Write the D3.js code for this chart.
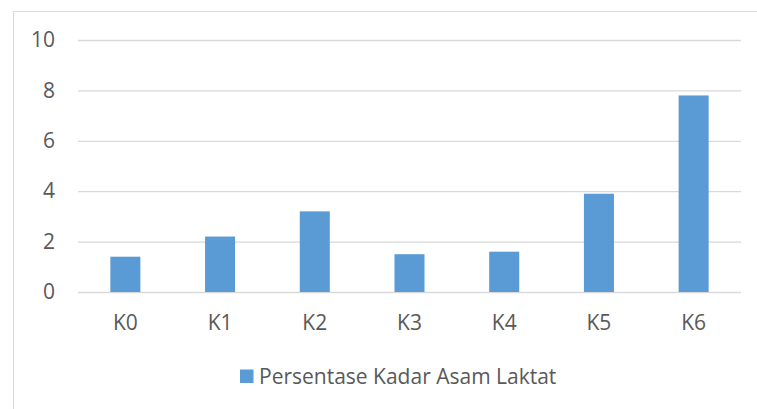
<!DOCTYPE html>
<html><head><meta charset="utf-8">
<script src="https://cdn.jsdelivr.net/npm/d3@7"></script>
<style>html,body{margin:0;padding:0;background:#fff;}svg{display:block;}</style>
</head><body>
<svg id="chart" width="757" height="409"></svg>
<script>
const categories = ["K0","K1","K2","K3","K4","K5","K6"];
const values = [1.4, 2.2, 3.2, 1.5, 1.6, 3.9, 7.8];
const yTicks = [0, 2, 4, 6, 8, 10];
const seriesName = "Persentase Kadar Asam Laktat";

const svg = d3.select("#chart");
const font = "'Open Sans', sans-serif";
const fs = "21px";
const textColor = "#595959";
const gridColor = "#d9d9d9";
const barColor = "#5b9bd5";

svg.append("rect").attr("x",13.5).attr("y",11.5).attr("width",760).attr("height",420)
  .attr("fill","#fff").attr("stroke",gridColor).attr("stroke-width",1);

const margin = {left:78, right:741, top:40, bottom:292};
const x = d3.scaleBand().domain(categories).range([margin.left, margin.right]).paddingInner(0.683).paddingOuter(0.3415);
const y = d3.scaleLinear().domain([0,10]).range([margin.bottom, margin.top]);

const yAxis = d3.axisLeft(y).tickValues(yTicks).tickSize(-(margin.right-margin.left)).tickPadding(23);
const gy = svg.append("g").attr("transform",`translate(${margin.left},0)`).call(yAxis);
gy.select(".domain").remove();
gy.selectAll(".tick line").attr("stroke",gridColor).attr("stroke-width",1.3);
gy.selectAll(".tick text").attr("fill",textColor).style("font-family",font).style("font-size",fs);

svg.append("g").selectAll("rect").data(values).join("rect")
  .attr("x",(d,i)=>x(categories[i])).attr("width",x.bandwidth())
  .attr("y",d=>y(d)).attr("height",d=>y(0)-y(d)).attr("fill",barColor);

const xAxis = d3.axisBottom(x).tickSize(0).tickPadding(23);
const gx = svg.append("g").attr("transform",`translate(0,${margin.bottom})`).call(xAxis);
gx.select(".domain").remove();
gx.selectAll(".tick text").attr("fill",textColor).style("font-family",font).style("font-size",fs);

const lg = svg.append("g").attr("transform","translate(240,369)");
lg.append("rect").attr("width",13.5).attr("height",13.5).attr("y",0.5).attr("fill",barColor);
lg.append("text").attr("x",19).attr("y",8).attr("dy","0.35em").attr("fill",textColor)
  .style("font-family",font).style("font-size",fs).text(seriesName);
</script>
</body></html>
